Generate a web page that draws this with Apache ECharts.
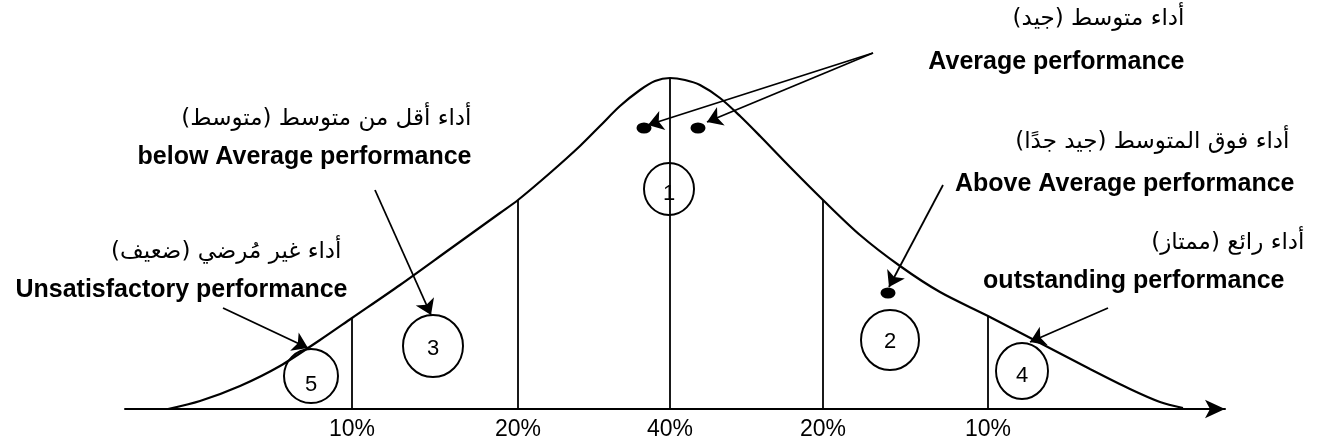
<!DOCTYPE html>
<html>
<head>
<meta charset="utf-8">
<script src="https://cdn.jsdelivr.net/npm/echarts@6/dist/echarts.min.js"></script>
<style>
  html, body { margin: 0; padding: 0; background: #fff; }
  #chart { width: 1330px; height: 447px; }
</style>
</head>
<body>
<div id="chart"></div>
<script>
// Bell curve of performance ratings (x: rating spread, y: relative share)
const curveX = [-50.2, -47, -43, -39, -35, -31.8, -27, -22, -17, -15.2, -12, -9, -7, -5, -3, -1.5, 0,
                1.5, 3, 5, 7, 9, 12, 15.3, 19, 23, 27, 31.8, 37, 42, 46, 49, 51.3];
const curveY = [0, 0.8, 2.3, 4.3, 6.9, 9.1, 12.4, 16.0, 19.6, 20.9, 23.6, 26.3, 28.3, 30.3, 31.9, 32.8, 33.1,
                32.9, 32.4, 31.1, 29.3, 27.3, 24.2, 20.9, 17.4, 14.3, 11.7, 9.3, 6.6, 4.0, 2.0, 0.7, 0.1];

// Band boundaries and the share of staff in each band
const dividerX = [-31.8, -15.2, 0, 15.3, 31.8];
const dividerTop = [9.1, 20.9, 33.1, 20.9, 9.3];
const dividerLabels = ['10%', '20%', '40%', '20%', '10%'];

// Rank badges (1 = average ... 5 = unsatisfactory)
const rankNames = ['1', '2', '3', '4', '5'];
const rankX = [-0.1, 22.0, -23.7, 35.2, -35.9];
const rankY = [22.0, 6.9, 6.3, 3.8, 3.3];

// Marker dots pointed at by the callouts
const dotX = [-2.6, 2.8, 21.8];
const dotY = [28.1, 28.1, 11.6];

// Callout captions: Arabic line above, English line below
const arabicText = [
  'أداء متوسط (جيد)',
  'أداء أقل من متوسط (متوسط)',
  'أداء فوق المتوسط (جيد جدًا)',
  'أداء رائع (ممتاز)',
  'أداء غير مُرضي (ضعيف)'
];
const englishText = [
  'Average performance',
  'below Average performance',
  'Above Average performance',
  'outstanding performance',
  'Unsatisfactory performance'
];
const arabicX = [51.5, -19.8, 62.0, 63.5, -32.8];
const arabicY = [39.0, 29.0, 26.7, 16.6, 15.7];
const englishX = [51.5, -19.8, 62.5, 61.5, -32.2];
const englishY = [34.7, 25.2, 22.5, 12.8, 11.9];

// Callout arrows: [fromX, fromY] -> [toX, toY]
const arrowFrom = [[20.3, 35.6], [20.3, 35.6], [27.3, 22.4], [-29.5, 21.9], [-44.7, 10.1], [43.8, 10.1]];
const arrowTo   = [[-2.2, 28.4], [3.7, 28.7], [21.9, 12.2], [-23.9, 9.4], [-36.2, 6.1], [36.0, 6.7]];

const EN_FONT = "'Liberation Sans', Arial, sans-serif";
const AR_FONT = "'DejaVu Sans', sans-serif";

const chart = echarts.init(document.getElementById('chart'), null, { renderer: 'canvas' });

function textItems(xs, ys, texts, font, size, weight) {
  return texts.map((t, i) => ({
    value: [xs[i], ys[i]],
    label: {
      show: true, formatter: t, position: 'left', distance: 0,
      color: '#000', fontFamily: font, fontSize: size, fontWeight: weight
    }
  }));
}

const rankSizes = [[50, 52], [58, 60], [60, 62], [52, 56], [54, 54]];
const rankOffsets = [[0, 5], [0, 2], [0, 3], [0, 5], [0, 9]];

chart.setOption({
  animation: false,
  backgroundColor: '#fff',
  grid: { left: 125, right: 105, top: 9, bottom: 38, outerBoundsMode: 'none' },
  xAxis: {
    type: 'value', min: -54.5, max: 55.5,
    axisLine: {
      show: true, onZero: false,
      lineStyle: { color: '#000', width: 2 },
      symbol: ['none', 'arrow'], symbolSize: [14, 20]
    },
    axisTick: { show: false },
    splitLine: { show: false },
    axisLabel: {
      customValues: dividerX,
      formatter: v => { const i = dividerX.indexOf(v); return i >= 0 ? dividerLabels[i] : ''; },
      color: '#000', fontFamily: EN_FONT, fontSize: 23, margin: 9
    }
  },
  yAxis: { type: 'value', min: 0, max: 40, show: false },
  series: [
    {
      type: 'line', name: 'curve',
      data: curveX.map((x, i) => [x, curveY[i]]),
      smooth: 0.3, showSymbol: false, clip: false,
      lineStyle: { color: '#000', width: 2.2 }, z: 3
    },
    {
      type: 'lines', coordinateSystem: 'cartesian2d', name: 'bands',
      data: dividerX.map((x, i) => ({ coords: [[x, 0], [x, dividerTop[i]]] })),
      lineStyle: { color: '#000', width: 1.8, opacity: 1 }, symbol: 'none', z: 2
    },
    {
      type: 'lines', coordinateSystem: 'cartesian2d', name: 'arrows',
      data: arrowFrom.map((f, i) => ({ coords: [f, arrowTo[i]] })),
      lineStyle: { color: '#000', width: 1.8, opacity: 1 },
      symbol: ['none', 'arrow'], symbolSize: 15, z: 4
    },
    {
      type: 'scatter', name: 'dots', clip: false,
      data: dotX.map((x, i) => [x, dotY[i]]),
      symbol: 'circle', symbolSize: [15, 11],
      itemStyle: { color: '#000', opacity: 1 }, z: 5
    },
    {
      type: 'scatter', name: 'ranks', clip: false,
      data: rankNames.map((n, i) => ({
        value: [rankX[i], rankY[i]], name: n,
        symbolSize: rankSizes[i],
        label: { offset: rankOffsets[i] }
      })),
      symbol: 'circle',
      itemStyle: { color: 'rgba(0,0,0,0)', borderColor: '#000', borderWidth: 2, opacity: 1 },
      label: { show: true, position: 'inside', formatter: '{b}', color: '#000', fontFamily: EN_FONT, fontSize: 22 },
      z: 5
    },
    {
      type: 'scatter', name: 'arabic', clip: false, symbolSize: 1,
      itemStyle: { color: 'rgba(0,0,0,0)', opacity: 1 },
      data: textItems(arabicX, arabicY, arabicText, AR_FONT, 23, 'normal'), z: 6
    },
    {
      type: 'scatter', name: 'english', clip: false, symbolSize: 1,
      itemStyle: { color: 'rgba(0,0,0,0)', opacity: 1 },
      data: textItems(englishX, englishY, englishText, EN_FONT, 25, 'bold'), z: 6
    }
  ]
});
</script>
</body>
</html>
